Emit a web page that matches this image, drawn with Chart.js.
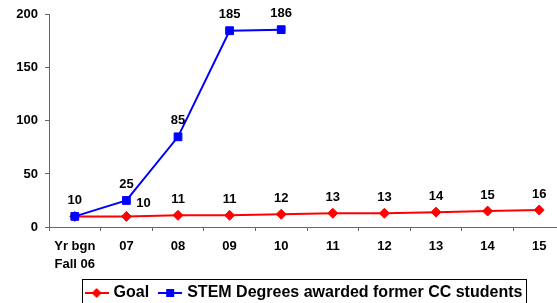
<!DOCTYPE html>
<html>
<head>
<meta charset="utf-8">
<script src="https://cdn.jsdelivr.net/npm/chart.js@4/dist/chart.umd.min.js"></script>
<style>
html, body { margin: 0; padding: 0; overflow: hidden; background: #fff; }
</style>
</head>
<body>
<canvas id="chart" width="610" height="312"></canvas>
<script>
const categories = [['Yr bgn', 'Fall 06'], '07', '08', '09', '10', '11', '12', '13', '14', '15'];
const goalValues = [10, 10, 11, 11, 12, 13, 13, 14, 15, 16];
const stemValues = [10, 25, 85, 185, 186, null, null, null, null, null];
const yTicks = [0, 50, 100, 150, 200];

const FONT = '"Liberation Sans", Arial, sans-serif';

// little line + marker picture for the legend, like Excel draws it
function legendIcon(color, shape) {
    const c = document.createElement('canvas');
    c.width = 24;
    c.height = 12;
    const g = c.getContext('2d');
    g.strokeStyle = color;
    g.fillStyle = color;
    g.lineWidth = 2;
    g.beginPath();
    g.moveTo(0, 6);
    g.lineTo(24, 6);
    g.stroke();
    g.beginPath();
    if (shape === 'diamond') {
        g.moveTo(12, 1); g.lineTo(17, 6); g.lineTo(12, 11); g.lineTo(7, 6);
    } else {
        g.rect(8, 2, 8, 8);
    }
    g.closePath();
    g.fill();
    return c;
}

const pointLabels = {
    id: 'pointLabels',
    afterDatasetsDraw(chart) {
        const ctx = chart.ctx;
        ctx.save();
        ctx.font = 'bold 13px ' + FONT;
        ctx.fillStyle = '#000';
        ctx.textAlign = 'center';
        ctx.textBaseline = 'middle';
        chart.data.datasets.forEach((ds, di) => {
            const meta = chart.getDatasetMeta(di);
            meta.data.forEach((pt, i) => {
                const v = ds.data[i];
                if (v === null) return;
                if (di === 0 && i === 0) return; // same spot as the blue 10
                let dx = 0, dy = -16;
                if (di === 0 && i === 1) { dx = 17; dy = -13; } // pushed aside by the 25
                ctx.fillText(String(v), pt.x + dx, pt.y + dy);
            });
        });
        ctx.restore();
    }
};

const legendFrame = {
    id: 'legendFrame',
    afterDraw(chart) {
        const boxes = chart.legend.legendHitBoxes;
        if (!boxes || !boxes.length) return;
        const left = Math.min(...boxes.map(b => b.left)) - 6;
        const right = Math.max(...boxes.map(b => b.left + b.width)) + 3;
        const top = Math.min(...boxes.map(b => b.top)) - 6;
        const bottom = Math.max(...boxes.map(b => b.top + b.height)) + 5;
        const ctx = chart.ctx;
        ctx.save();
        ctx.strokeStyle = '#000';
        ctx.lineWidth = 1;
        ctx.strokeRect(Math.round(left) + 0.5, Math.round(top) + 0.5, Math.round(right - left), Math.round(bottom - top));
        ctx.restore();
    }
};

const ctx = document.getElementById('chart').getContext('2d');
new Chart(ctx, {
    type: 'line',
    data: {
        labels: categories,
        datasets: [
            {
                label: 'Goal',
                data: goalValues,
                borderColor: '#ff0000',
                backgroundColor: '#ff0000',
                borderWidth: 2,
                pointStyle: 'rectRot',
                pointRadius: 5,
                pointBorderWidth: 1,
                order: 1,
                legendIcon: legendIcon('#ff0000', 'diamond'),
            },
            {
                label: 'STEM Degrees awarded former CC students',
                data: stemValues,
                borderColor: '#0000ff',
                backgroundColor: '#0000ff',
                borderWidth: 2,
                pointStyle: 'rect',
                pointRadius: 5.5,
                pointBorderWidth: 1,
                order: 0, // blue sits on top of the red at the first point
                legendIcon: legendIcon('#0000ff', 'square'),
            },
        ],
    },
    options: {
        responsive: false,
        animation: false,
        layout: {
            padding: { top: 13, left: 0, right: 0, bottom: 1 },
        },
        plugins: {
            legend: {
                position: 'bottom',
                labels: {
                    usePointStyle: true,
                    pointStyleWidth: 18,
                    padding: 12,
                    color: '#000',
                    font: { family: FONT, size: 16, weight: 'bold' },
                    sort: (a, b) => a.datasetIndex - b.datasetIndex,
                    generateLabels(chart) {
                        return chart.data.datasets.map((ds, i) => ({
                            text: ds.label,
                            datasetIndex: i,
                            pointStyle: ds.legendIcon,
                            fillStyle: ds.backgroundColor,
                            strokeStyle: ds.borderColor,
                            lineWidth: 0,
                            hidden: false,
                        }));
                    },
                },
            },
            tooltip: { enabled: false },
        },
        scales: {
            x: {
                offset: true,
                ticks: {
                    color: '#000',
                    font: { family: FONT, size: 13, weight: 'bold', lineHeight: 1.35 },
                    padding: 7,
                    maxRotation: 0,
                    autoSkip: false,
                },
                grid: {
                    drawOnChartArea: false,
                    tickLength: 4,
                    color: '#666',
                    offset: true,
                },
                border: { color: '#666' },
                afterFit(scale) { scale.height = 46; },
            },
            y: {
                min: 0,
                max: 200,
                afterBuildTicks(scale) { scale.ticks = yTicks.map(v => ({ value: v })); },
                ticks: {
                    color: '#000',
                    font: { family: FONT, size: 13, weight: 'bold' },
                    padding: 7,
                },
                grid: {
                    drawOnChartArea: false,
                    tickLength: 4,
                    color: '#666',
                },
                border: { color: '#666' },
                afterFit(scale) { scale.width = 49; },
            },
            // empty strip on the right so the last category runs off the page like the original
            yRight: {
                position: 'right',
                display: true,
                ticks: { display: false },
                grid: { display: false },
                border: { display: false },
                afterFit(scale) { scale.width = 45; },
            },
        },
    },
    plugins: [pointLabels, legendFrame],
});
</script>
</body>
</html>
